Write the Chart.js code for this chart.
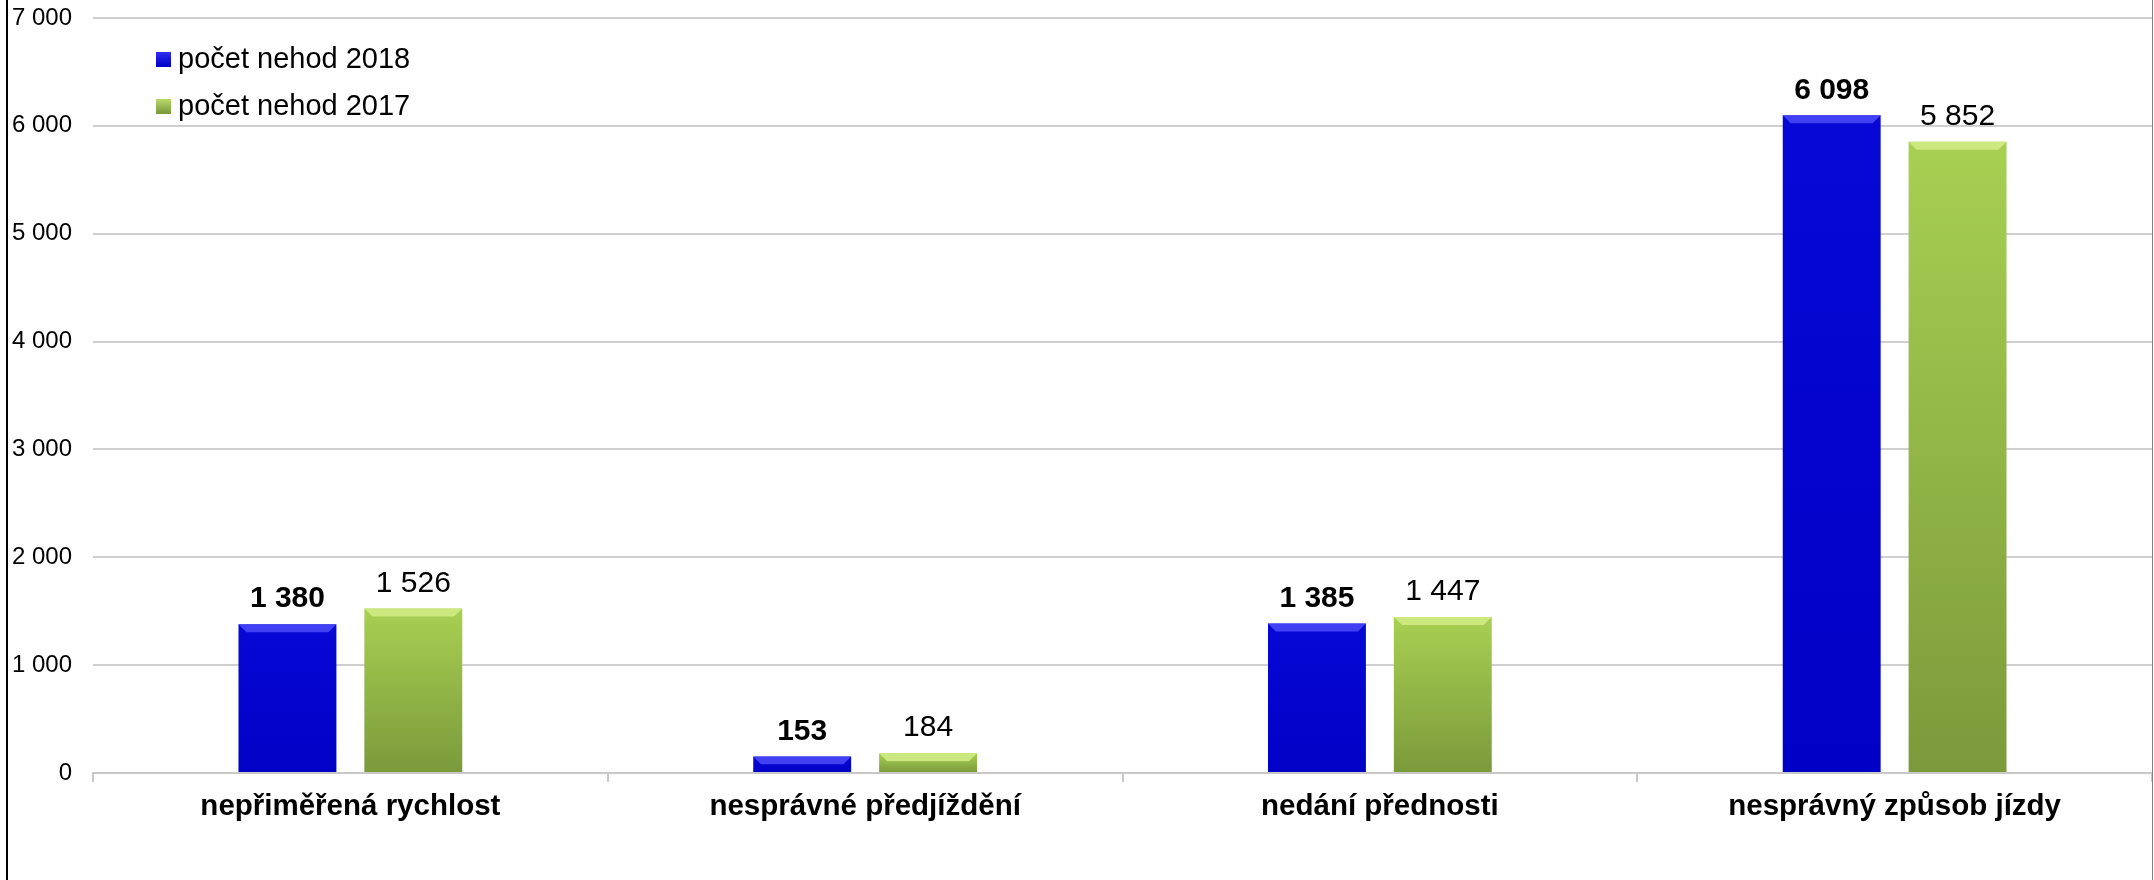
<!DOCTYPE html>
<html>
<head>
<meta charset="utf-8">
<script src="https://cdn.jsdelivr.net/npm/chart.js@4.4.1/dist/chart.umd.min.js"></script>
<style>
html,body{margin:0;padding:0;background:#fff;}
canvas{display:block;}
</style>
</head>
<body>
<canvas id="c" width="2154" height="880"></canvas>
<script>
const categories = ["nepřiměřená rychlost", "nesprávné předjíždění", "nedání přednosti", "nesprávný způsob jízdy"];
const seriesNames = ["počet nehod 2018", "počet nehod 2017"];
const values2018 = [1380, 153, 1385, 6098];
const values2017 = [1526, 184, 1447, 5852];
const yTicks = [0, 1000, 2000, 3000, 4000, 5000, 6000, 7000];

const FONT = "'Liberation Sans', Arial, sans-serif";
const fmt = v => String(v).replace(/\B(?=(\d{3})+(?!\d))/g, ' ');

function barGradient(ctx, top, bottom) {
  const c = ctx.chart;
  const y = c.scales && c.scales.y;
  if (!y || ctx.raw === undefined) return top;
  const y0 = y.getPixelForValue(0), y1 = y.getPixelForValue(ctx.raw);
  if (!isFinite(y0) || !isFinite(y1) || y0 === y1) return top;
  const g = c.ctx.createLinearGradient(0, y1, 0, y0);
  g.addColorStop(0, top);
  g.addColorStop(1, bottom);
  return g;
}

const bevelPlugin = {
  id: 'bevel',
  afterDatasetsDraw(chart) {
    const ctx = chart.ctx;
    const lights = ['rgba(80,80,250,0.8)', 'rgba(210,236,135,0.85)'];
    chart.data.datasets.forEach((ds, di) => {
      const meta = chart.getDatasetMeta(di);
      meta.data.forEach(bar => {
        const left = bar.x - bar.width / 2, right = bar.x + bar.width / 2;
        const top = bar.y, h = Math.min(8, (bar.base - bar.y) / 2);
        ctx.save();
        ctx.fillStyle = lights[di];
        ctx.beginPath();
        ctx.moveTo(left, top);
        ctx.lineTo(right, top);
        ctx.lineTo(right - h, top + h);
        ctx.lineTo(left + h, top + h);
        ctx.closePath();
        ctx.fill();
        ctx.restore();
      });
    });
  }
};

const labelPlugin = {
  id: 'valueLabels',
  afterDatasetsDraw(chart) {
    const ctx = chart.ctx;
    chart.data.datasets.forEach((ds, di) => {
      const meta = chart.getDatasetMeta(di);
      ctx.save();
      ctx.font = (di === 0 ? 'bold ' : '') + '30px ' + FONT;
      ctx.fillStyle = '#000';
      ctx.textAlign = 'center';
      ctx.textBaseline = 'middle';
      meta.data.forEach((bar, i) => {
        ctx.fillText(fmt(ds.data[i]), bar.x, bar.y - 25);
      });
      ctx.restore();
    });
  }
};

const legendPlugin = {
  id: 'cornerLegend',
  afterDraw(chart) {
    const ctx = chart.ctx;
    const sw = [['#3030f0', '#0000c8'], ['#b8dc6a', '#7d9b3c']];
    ctx.save();
    ctx.font = '29px ' + FONT;
    ctx.textBaseline = 'middle';
    ctx.textAlign = 'left';
    chart.data.datasets.forEach((ds, i) => {
      const cy = 59 + i * 47;
      const g = ctx.createLinearGradient(0, cy - 7, 0, cy + 7);
      g.addColorStop(0, sw[i][0]); g.addColorStop(1, sw[i][1]);
      ctx.fillStyle = g;
      ctx.fillRect(156, cy - 7, 15, 15);
      ctx.fillStyle = '#000';
      ctx.fillText(ds.label, 178, cy + 1);
    });
    ctx.restore();
    // outer frame
    ctx.save();
    ctx.fillStyle = '#000';
    ctx.fillRect(6, 0, 2, chart.height);
    ctx.fillStyle = '#808080';
    ctx.fillRect(2152, 0, 1, chart.height);
    ctx.restore();
  }
};

new Chart(document.getElementById('c'), {
  type: 'bar',
  data: {
    labels: categories,
    datasets: [
      {
        label: seriesNames[0],
        data: values2018,
        backgroundColor: ctx => barGradient(ctx, '#0808d6', '#0000c6'),
        borderWidth: 0,
        categoryPercentage: 0.489,
        barPercentage: 0.778
      },
      {
        label: seriesNames[1],
        data: values2017,
        backgroundColor: ctx => barGradient(ctx, '#a8d052', '#7b9a3b'),
        borderWidth: 0,
        categoryPercentage: 0.489,
        barPercentage: 0.778
      }
    ]
  },
  options: {
    responsive: false,
    devicePixelRatio: 1,
    animation: false,
    layout: { padding: { top: 18, right: 2, left: 0, bottom: 0 } },
    plugins: { legend: { display: false }, tooltip: { enabled: false } },
    scales: {
      x: {
        grid: { offset: true, drawOnChartArea: false, drawTicks: true, tickLength: 9, color: '#c8c8c8', lineWidth: 2 },
        border: { display: true, color: '#c8c8c8', width: 2 },
        ticks: { color: '#000', font: { family: FONT, size: 29.5, weight: 'bold' }, padding: 7, maxRotation: 0, autoSkip: false },
        afterFit(s) { s.height = 107; }
      },
      y: {
        min: yTicks[0],
        max: yTicks[yTicks.length - 1],
        afterBuildTicks(s) { s.ticks = yTicks.map(v => ({ value: v })); },
        grid: { drawTicks: false, color: '#d0d0d0', lineWidth: 2 },
        border: { display: false },
        ticks: { color: '#000', font: { family: FONT, size: 24 }, padding: 21, callback: v => fmt(v) },
        afterFit(s) { s.width = 93; s.paddingTop = 0; s.paddingBottom = 0; }
      }
    }
  },
  plugins: [bevelPlugin, labelPlugin, legendPlugin]
});
</script>
</body>
</html>
